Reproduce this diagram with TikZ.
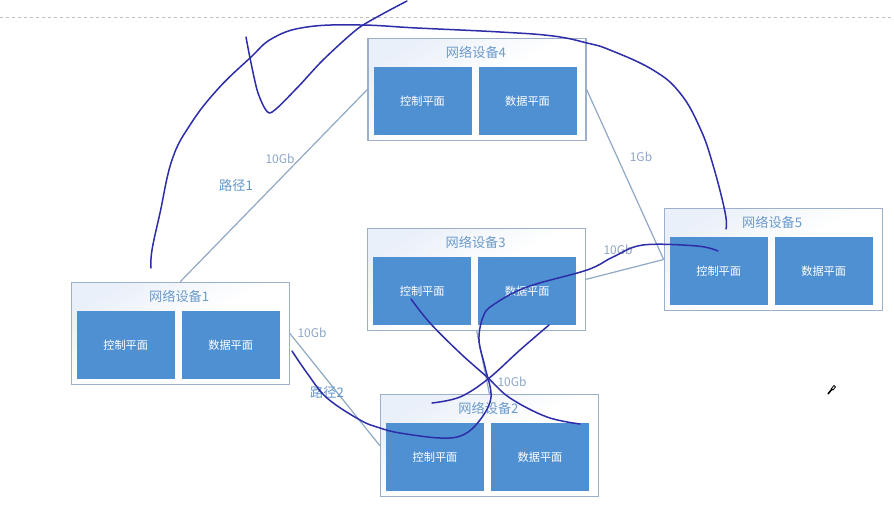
\documentclass[tikz,border=0pt]{standalone}
\usepackage{fontspec}
\setmainfont{Noto Sans CJK SC}
\usetikzlibrary{positioning,calc}
\definecolor{PLANE}{HTML}{4F90D2}
\definecolor{FRAME}{HTML}{9DB0CB}
\definecolor{TINT}{HTML}{EAF0F9}
\definecolor{TITLE}{HTML}{6C9BCB}
\definecolor{LINK}{HTML}{8FA8C4}
\definecolor{RATE}{HTML}{8EA6C6}
\definecolor{PATHTXT}{HTML}{6497CC}
\definecolor{INK}{HTML}{2E2DA8}
\begin{document}
\begin{tikzpicture}[x=1pt,y=-1pt]
\tikzstyle{device}=[draw=FRAME,line width=1.1pt,minimum width=218pt,minimum height=102pt,inner sep=0pt,top color=TINT,bottom color=white,middle color=white,shading angle=30]
\tikzstyle{plane}=[fill=PLANE,minimum width=98pt,minimum height=68pt,inner sep=0pt,text=white,font=\fontsize{11.2}{13}\selectfont]
\tikzstyle{devTitle}=[text=TITLE,inner sep=0pt,font=\fontsize{13.2}{15}\selectfont]
\tikzstyle{myLink}=[draw=LINK,line width=1.2pt]
\tikzstyle{rate}=[text=RATE,inner sep=0pt,font=\fontsize{12}{14}\selectfont]
\tikzstyle{pathName}=[text=PATHTXT,inner sep=0pt,font=\fontsize{13.2}{15}\selectfont]
\tikzstyle{scribble}=[draw=INK,line width=1.5pt,line cap=round,line join=round]

\newcommand{\devicebox}[3]{
\node[device] (dev#1) at (#2,#3) {};
\node[devTitle] (title#1) at (#2-1,#3-37) {网络设备#1};
\node[plane] (ctrl#1) at (#2-54.5,#3+11.5) {\raisebox{1pt}{控制平面}};
\node[plane] (data#1) at (#2+50.5,#3+11.5) {\raisebox{1pt}{数据平面}};
}

\useasboundingbox (0,0) rectangle (894,514);
\fill[white] (0,0) rectangle (894,514);
\draw[black!25,dashed] (0,17) -- (894,17);

\devicebox{1}{180.2}{333.3}
\devicebox{2}{489.5}{445.8}
\devicebox{3}{476.7}{279.3}
\devicebox{4}{477}{89.4}
\devicebox{5}{773.2}{259.5}

\draw[myLink] (dev1.north) -- (dev4.west);
\draw[myLink] (dev1.east) -- (dev2.west);
\draw[myLink] (dev4.east) -- (dev5.west);
\draw[myLink] (dev3.east) -- (dev5.west);
\draw[myLink] (dev3.south) -- (dev2.north);

\node[rate] (rate14) at (280,159) {10Gb};
\node[pathName] (path1) at (236,185) {路径1};
\node[rate] (rate12) at (312,333) {10Gb};
\node[pathName] (path2) at (327,392) {路径2};
\node[rate] (rate45) at (641,157) {1Gb};
\node[rate] (rate35) at (618,250) {10Gb};
\node[rate] (rate32) at (512,382) {10Gb};

%% pen strokes on top of the slide
\draw[scribble] plot[smooth,tension=.7] coordinates {(151,268) (152,250) (160,213) (172,160) (190,125) (217,90) (250,58) (273,38) (307,27) (360,25) (417,28) (500,32) (553,36) (587,43) (610,50) (653,70) (680,93) (700,128) (713,165) (725,212) (726,229)};
\draw[scribble] plot[smooth,tension=.4] coordinates {(407,1) (360,27) (323,60) (297,88) (270,113) (258,93) (250,58) (246,37)};
\draw[scribble] plot[smooth,tension=.6] coordinates {(292,351) (307,373) (327,398) (360,420) (380,428) (400,433) (440,438) (463,435) (480,420) (491,397) (485,367) (479,340) (483,317) (493,305) (527,287) (587,270) (613,257) (643,245) (697,246) (718,251)};
\draw[scribble] plot[smooth,tension=.6] coordinates {(411,299) (430,323) (460,353) (487,377) (510,398) (547,417) (580,424)};
\draw[scribble] plot[smooth,tension=.6] coordinates {(549,325) (520,350) (488,379) (460,397) (432,403)};

\draw[black,line width=1.6pt] (828,394) -- (832,389);
\draw[black,line width=.8pt,fill=white] (831.5,388.5) -- (834,385.5) -- (835.5,387) -- (833,390) -- cycle;
\end{tikzpicture}
\end{document}
